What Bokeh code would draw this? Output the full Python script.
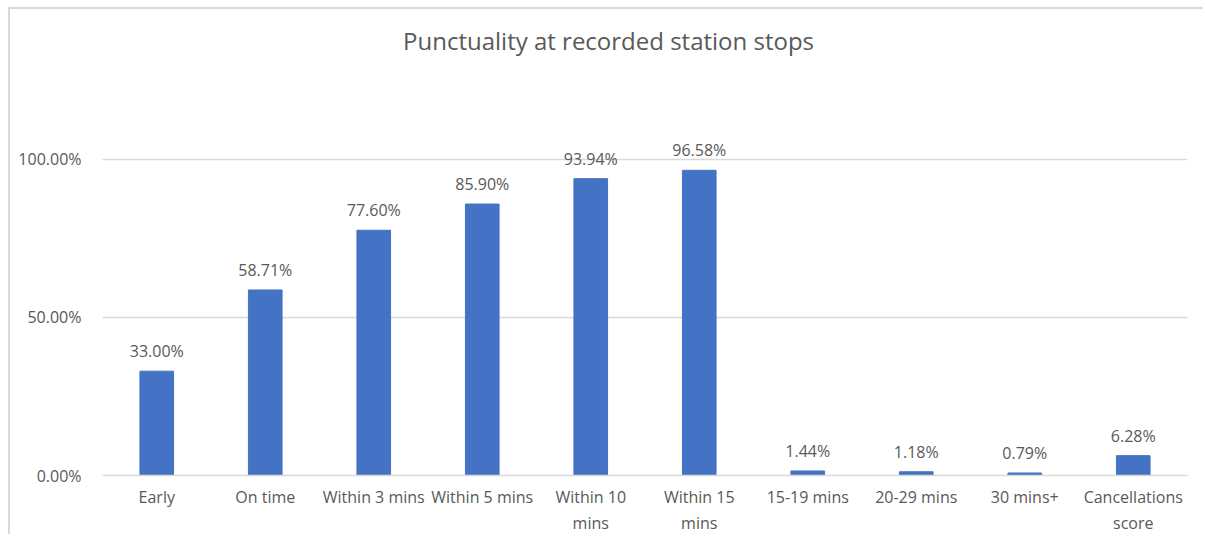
from bokeh.plotting import figure
from bokeh.models import ColumnDataSource, FactorRange, Range1d, FixedTicker, NumeralTickFormatter, Label
from bokeh.embed import file_html
from bokeh.resources import INLINE

categories = ["Early", "On time", "Within 3 mins", "Within 5 mins", "Within 10 mins",
              "Within 15 mins", "15-19 mins", "20-29 mins", "30 mins+", "Cancellations score"]
values = [33.00, 58.71, 77.60, 85.90, 93.94, 96.58, 1.44, 1.18, 0.79, 6.28]
wrapped = {"Within 10 mins": "Within 10\nmins", "Within 15 mins": "Within 15\nmins",
           "Cancellations score": "Cancellations\nscore"}
y_ticks = [0.0, 0.5, 1.0]
title_text = "Punctuality at recorded station stops"

FONT = "Open Sans"
GREY = "#595959"

factors = [wrapped.get(c, c) for c in categories]

src = ColumnDataSource(dict(
    cat=factors,
    val=[v / 100 for v in values],
    lab=[f"{v:.2f}%" for v in values],
))

# frame spans the full inner height so the title can sit inside it
p = figure(width=1195, height=527, output_backend="svg", toolbar_location=None,
           x_range=FactorRange(*factors), y_range=Range1d(0, 1.443),
           min_border_left=92, min_border_right=18, min_border_top=10, min_border_bottom=61)
p.styles = {"margin-left": "8px", "margin-top": "7px",
            "border-left": "2px solid #d9d9d9", "border-top": "2px solid #d9d9d9"}

p.add_layout(Label(x=4.664, y=1.377, text=title_text,
                   text_align="center", text_baseline="middle", text_font=FONT,
                   text_font_size="24px", text_color=GREY))

p.vbar(x="cat", top="val", width=0.31, source=src, color="#4472C4")
p.text(x="cat", y="val", text="lab", source=src, text_align="center", text_baseline="bottom",
       y_offset=-9, text_font_size="16px", text_color=GREY, text_font={"value": FONT})

p.outline_line_color = None
p.xgrid.grid_line_color = None
p.ygrid.grid_line_color = "#d9d9d9"
p.ygrid.grid_line_width = 1.5
p.yaxis.ticker = FixedTicker(ticks=y_ticks)
p.yaxis.formatter = NumeralTickFormatter(format="0.00%")
p.yaxis.axis_line_color = None
p.yaxis.major_tick_line_color = None
p.yaxis.minor_tick_line_color = None
p.yaxis.major_label_standoff = 15
p.xaxis.axis_line_color = "#d9d9d9"
p.xaxis.axis_line_width = 1.5
p.xaxis.major_tick_line_color = None
p.xaxis.minor_tick_line_color = None
p.xaxis.major_label_standoff = 4
for ax in (p.xaxis, p.yaxis):
    ax.major_label_text_font = FONT
    ax.major_label_text_font_size = "16px"
    ax.major_label_text_color = GREY

open("out.html", "w").write(file_html(p, INLINE))
